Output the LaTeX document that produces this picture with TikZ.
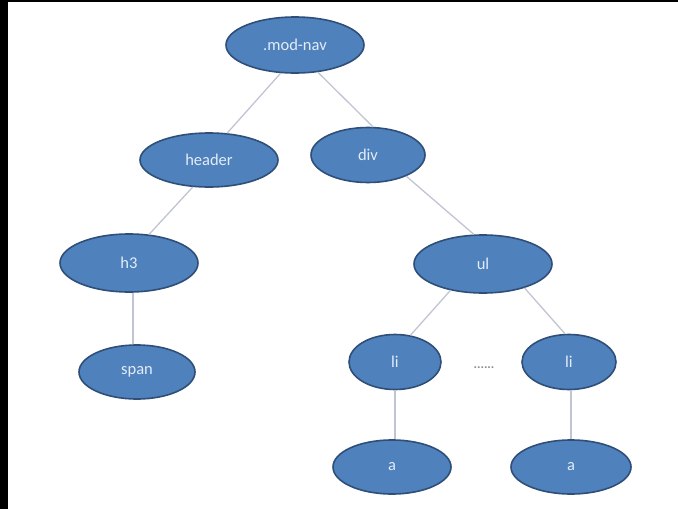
\documentclass[tikz,border=0pt]{standalone}
\usepackage{fontspec}
\setmainfont{Carlito}
\usetikzlibrary{shapes.geometric}
\definecolor{nodefill}{HTML}{4F81BD}
\definecolor{nodeline}{HTML}{2F4F78}
\definecolor{edgecol}{HTML}{BFC6D2}
\definecolor{txtcol}{HTML}{E3ECF7}
\begin{document}
\begin{tikzpicture}[x=1pt,y=-1pt,
  tnode/.style={ellipse, draw=nodeline, line width=1.6pt, fill=nodefill, inner sep=0pt,
    text=txtcol, font=\fontsize{16.5}{18}\selectfont},
  edge/.style={draw=edgecol, line width=1.3pt}]
\useasboundingbox (0,0) rectangle (678,509);
\fill[white] (0,0) rectangle (678,509);
\fill[black] (0,0) rectangle (8,509);
\fill[black] (0,0) rectangle (678,2);
\node[tnode, minimum width=138pt, minimum height=56pt] (root) at (295,45) {.mod-nav};
\node[tnode, minimum width=138pt, minimum height=54pt] (header) at (209,160) {header};
\node[tnode, minimum width=114pt, minimum height=55pt] (div) at (368,155) {div};
\node[tnode, minimum width=138pt, minimum height=58pt] (h3) at (129,263) {h3};
\node[tnode, minimum width=116pt, minimum height=54pt] (span) at (137,372) {span};
\node[tnode, minimum width=138pt, minimum height=58pt] (ul) at (483,264) {ul};
\node[tnode, minimum width=92pt, minimum height=55pt] (li1) at (395,362) {li};
\node[tnode, minimum width=94pt, minimum height=55pt] (li2) at (569,362) {li};
\node[tnode, minimum width=118pt, minimum height=54pt] (a1) at (392,467) {a};
\node[tnode, minimum width=120pt, minimum height=54pt] (a2) at (571,467) {a};
\node[font=\fontsize{13}{14}\selectfont\bfseries, text=gray!90] (dots) at (484,368) {......};
\draw[edge] (root.-117) -- (header.56);
\draw[edge] (root.-50) -- (div.80);
\draw[edge] (header.-121) -- (h3.55);
\draw[edge] ([xshift=4pt]h3.south) -- ([xshift=-4pt]span.north);
\draw[edge] (div.-29) -- (ul.107);
\draw[edge] (ul.-141) -- (li1.60);
\draw[edge] (ul.-30) -- (li2.98);
\draw[edge] (li1.south) -- ([xshift=3pt]a1.north);
\draw[edge] ([xshift=2pt]li2.south) -- (a2.north);
\end{tikzpicture}
\end{document}
